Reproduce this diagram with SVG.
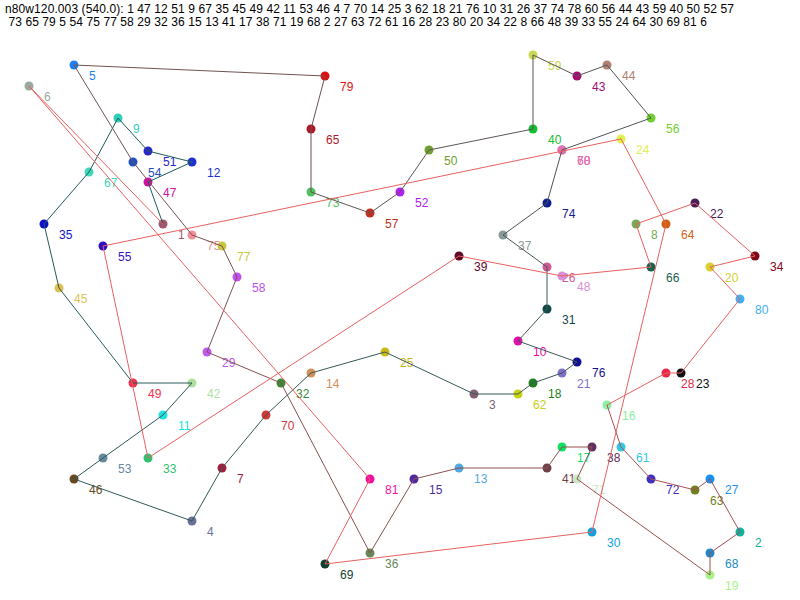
<svg xmlns="http://www.w3.org/2000/svg" width="800" height="600" viewBox="0 0 800 600">
<style>
.bg{fill:#ffffff}
.hdr{font-family:"Liberation Sans",Arial,sans-serif;font-size:12px;fill:#000000}
.nd circle{stroke:none}
.nd text{font-family:"Liberation Sans",Arial,sans-serif;font-size:12px}
#edges line{stroke-width:1;fill:none}
.r{stroke:#e86060}
</style>
<rect class="bg" x="0" y="0" width="800" height="600"/>
<text class="hdr" x="5" y="13" textLength="729" lengthAdjust="spacing">n80w120.003 (540.0): 1 47 12 51 9 67 35 45 49 42 11 53 46 4 7 70 14 25 3 62 18 21 76 10 31 26 37 74 78 60 56 44 43 59 40 50 52 57</text>
<text class="hdr" x="5" y="26" textLength="702" lengthAdjust="spacing" xml:space="preserve"> 73 65 79 5 54 75 77 58 29 32 36 15 13 41 17 38 71 19 68 2 27 63 72 61 16 28 23 80 20 34 22 8 66 48 39 33 55 24 64 30 69 81 6</text>

<g id="nodes">
<g id="node-1" class="nd"><circle cx="163" cy="224" r="4.5" fill="#a05870"/><text x="178" y="239" fill="#a05870">1</text></g>
<g id="node-2" class="nd"><circle cx="740" cy="532" r="4.5" fill="#10b0a0"/><text x="755" y="547" fill="#10b0a0">2</text></g>
<g id="node-3" class="nd"><circle cx="474" cy="394" r="4.5" fill="#806070"/><text x="489" y="409" fill="#806070">3</text></g>
<g id="node-4" class="nd"><circle cx="192" cy="521" r="4.5" fill="#6a7098"/><text x="207" y="536" fill="#6a7098">4</text></g>
<g id="node-5" class="nd"><circle cx="74" cy="65" r="4.5" fill="#1e80f0"/><text x="89" y="80" fill="#1e80f0">5</text></g>
<g id="node-6" class="nd"><circle cx="29" cy="86" r="4.5" fill="#98aaa0"/><text x="44" y="101" fill="#98aaa0">6</text></g>
<g id="node-7" class="nd"><circle cx="222" cy="468" r="4.5" fill="#a02040"/><text x="237" y="483" fill="#a02040">7</text></g>
<g id="node-8" class="nd"><circle cx="636" cy="224" r="4.5" fill="#78a858"/><text x="651" y="239" fill="#78a858">8</text></g>
<g id="node-9" class="nd"><circle cx="118" cy="118" r="4.5" fill="#30d0b8"/><text x="133" y="133" fill="#30d0b8">9</text></g>
<g id="node-10" class="nd"><circle cx="518" cy="341" r="4.5" fill="#e010a8"/><text x="533" y="356" fill="#e010a8">10</text></g>
<g id="node-11" class="nd"><circle cx="163" cy="415" r="4.5" fill="#20e0e0"/><text x="178" y="430" fill="#20e0e0">11</text></g>
<g id="node-12" class="nd"><circle cx="192" cy="162" r="4.5" fill="#2030d0"/><text x="207" y="177" fill="#2030d0">12</text></g>
<g id="node-13" class="nd"><circle cx="459" cy="468" r="4.5" fill="#50a8e0"/><text x="474" y="483" fill="#50a8e0">13</text></g>
<g id="node-14" class="nd"><circle cx="311" cy="373" r="4.5" fill="#d09058"/><text x="326" y="388" fill="#d09058">14</text></g>
<g id="node-15" class="nd"><circle cx="414" cy="479" r="4.5" fill="#5028a0"/><text x="429" y="494" fill="#5028a0">15</text></g>
<g id="node-16" class="nd"><circle cx="607" cy="405" r="4.5" fill="#88f0a0"/><text x="622" y="420" fill="#88f0a0">16</text></g>
<g id="node-17" class="nd"><circle cx="562" cy="447" r="4.5" fill="#10e060"/><text x="577" y="462" fill="#10e060">17</text></g>
<g id="node-18" class="nd"><circle cx="533" cy="383" r="4.5" fill="#208020"/><text x="548" y="398" fill="#208020">18</text></g>
<g id="node-19" class="nd"><circle cx="710" cy="575" r="4.5" fill="#a8f088"/><text x="725" y="590" fill="#a8f088">19</text></g>
<g id="node-20" class="nd"><circle cx="710" cy="267" r="4.5" fill="#d8d030"/><text x="725" y="282" fill="#d8d030">20</text></g>
<g id="node-21" class="nd"><circle cx="562" cy="373" r="4.5" fill="#8070c8"/><text x="577" y="388" fill="#8070c8">21</text></g>
<g id="node-22" class="nd"><circle cx="695" cy="203" r="4.5" fill="#482058"/><text x="710" y="218" fill="#482058">22</text></g>
<g id="node-23" class="nd"><circle cx="681" cy="373" r="4.5" fill="#101010"/><text x="696" y="388" fill="#101010">23</text></g>
<g id="node-24" class="nd"><circle cx="621" cy="139" r="4.5" fill="#e0f050"/><text x="636" y="154" fill="#e0f050">24</text></g>
<g id="node-25" class="nd"><circle cx="385" cy="352" r="4.5" fill="#c8b818"/><text x="400" y="367" fill="#c8b818">25</text></g>
<g id="node-26" class="nd"><circle cx="547" cy="267" r="4.5" fill="#d05890"/><text x="562" y="282" fill="#d05890">26</text></g>
<g id="node-27" class="nd"><circle cx="710" cy="479" r="4.5" fill="#1890f0"/><text x="725" y="494" fill="#1890f0">27</text></g>
<g id="node-28" class="nd"><circle cx="666" cy="373" r="4.5" fill="#e82848"/><text x="681" y="388" fill="#e82848">28</text></g>
<g id="node-29" class="nd"><circle cx="207" cy="352" r="4.5" fill="#c058f0"/><text x="222" y="367" fill="#c058f0">29</text></g>
<g id="node-30" class="nd"><circle cx="592" cy="532" r="4.5" fill="#10a0e0"/><text x="607" y="547" fill="#10a0e0">30</text></g>
<g id="node-31" class="nd"><circle cx="547" cy="309" r="4.5" fill="#104848"/><text x="562" y="324" fill="#104848">31</text></g>
<g id="node-32" class="nd"><circle cx="281" cy="383" r="4.5" fill="#3a8a3a"/><text x="296" y="398" fill="#3a8a3a">32</text></g>
<g id="node-33" class="nd"><circle cx="148" cy="458" r="4.5" fill="#30c070"/><text x="163" y="473" fill="#30c070">33</text></g>
<g id="node-34" class="nd"><circle cx="755" cy="256" r="4.5" fill="#800818"/><text x="770" y="271" fill="#800818">34</text></g>
<g id="node-35" class="nd"><circle cx="44" cy="224" r="4.5" fill="#1010c8"/><text x="59" y="239" fill="#1010c8">35</text></g>
<g id="node-36" class="nd"><circle cx="370" cy="553" r="4.5" fill="#688858"/><text x="385" y="568" fill="#688858">36</text></g>
<g id="node-37" class="nd"><circle cx="503" cy="235" r="4.5" fill="#8a9a98"/><text x="518" y="250" fill="#8a9a98">37</text></g>
<g id="node-38" class="nd"><circle cx="592" cy="447" r="4.5" fill="#603060"/><text x="607" y="462" fill="#603060">38</text></g>
<g id="node-39" class="nd"><circle cx="459" cy="256" r="4.5" fill="#600828"/><text x="474" y="271" fill="#600828">39</text></g>
<g id="node-40" class="nd"><circle cx="533" cy="129" r="4.5" fill="#10c030"/><text x="548" y="144" fill="#10c030">40</text></g>
<g id="node-41" class="nd"><circle cx="547" cy="468" r="4.5" fill="#704048"/><text x="562" y="483" fill="#704048">41</text></g>
<g id="node-42" class="nd"><circle cx="192" cy="383" r="4.5" fill="#b0e0a0"/><text x="207" y="398" fill="#b0e0a0">42</text></g>
<g id="node-43" class="nd"><circle cx="577" cy="76" r="4.5" fill="#a01070"/><text x="592" y="91" fill="#a01070">43</text></g>
<g id="node-44" class="nd"><circle cx="607" cy="65" r="4.5" fill="#b08070"/><text x="622" y="80" fill="#b08070">44</text></g>
<g id="node-45" class="nd"><circle cx="59" cy="288" r="4.5" fill="#e0c050"/><text x="74" y="303" fill="#e0c050">45</text></g>
<g id="node-46" class="nd"><circle cx="74" cy="479" r="4.5" fill="#684820"/><text x="89" y="494" fill="#684820">46</text></g>
<g id="node-47" class="nd"><circle cx="148" cy="182" r="4.5" fill="#d010a0"/><text x="163" y="197" fill="#d010a0">47</text></g>
<g id="node-48" class="nd"><circle cx="562" cy="276" r="4.5" fill="#d890d8"/><text x="577" y="291" fill="#d890d8">48</text></g>
<g id="node-49" class="nd"><circle cx="133" cy="383" r="4.5" fill="#f03050"/><text x="148" y="398" fill="#f03050">49</text></g>
<g id="node-50" class="nd"><circle cx="429" cy="150" r="4.5" fill="#70a030"/><text x="444" y="165" fill="#70a030">50</text></g>
<g id="node-51" class="nd"><circle cx="148" cy="151" r="4.5" fill="#2828c8"/><text x="163" y="166" fill="#2828c8">51</text></g>
<g id="node-52" class="nd"><circle cx="400" cy="192" r="4.5" fill="#b020f0"/><text x="415" y="207" fill="#b020f0">52</text></g>
<g id="node-53" class="nd"><circle cx="103" cy="458" r="4.5" fill="#6888a0"/><text x="118" y="473" fill="#6888a0">53</text></g>
<g id="node-54" class="nd"><circle cx="133" cy="162" r="4.5" fill="#2050c0"/><text x="148" y="177" fill="#2050c0">54</text></g>
<g id="node-55" class="nd"><circle cx="103" cy="246" r="4.5" fill="#3010c0"/><text x="118" y="261" fill="#3010c0">55</text></g>
<g id="node-56" class="nd"><circle cx="651" cy="118" r="4.5" fill="#70d030"/><text x="666" y="133" fill="#70d030">56</text></g>
<g id="node-57" class="nd"><circle cx="370" cy="213" r="4.5" fill="#c03020"/><text x="385" y="228" fill="#c03020">57</text></g>
<g id="node-58" class="nd"><circle cx="237" cy="277" r="4.5" fill="#c050f0"/><text x="252" y="292" fill="#c050f0">58</text></g>
<g id="node-59" class="nd"><circle cx="533" cy="55" r="4.5" fill="#c8d850"/><text x="548" y="70" fill="#c8d850">59</text></g>
<g id="node-60" class="nd"><circle cx="562" cy="150" r="4.5" fill="#d868a8"/><text x="577" y="165" fill="#d868a8">60</text></g>
<g id="node-61" class="nd"><circle cx="621" cy="447" r="4.5" fill="#30c8e0"/><text x="636" y="462" fill="#30c8e0">61</text></g>
<g id="node-62" class="nd"><circle cx="518" cy="394" r="4.5" fill="#c8d010"/><text x="533" y="409" fill="#c8d010">62</text></g>
<g id="node-63" class="nd"><circle cx="695" cy="490" r="4.5" fill="#708020"/><text x="710" y="505" fill="#708020">63</text></g>
<g id="node-64" class="nd"><circle cx="666" cy="224" r="4.5" fill="#d06010"/><text x="681" y="239" fill="#d06010">64</text></g>
<g id="node-65" class="nd"><circle cx="311" cy="129" r="4.5" fill="#b01828"/><text x="326" y="144" fill="#b01828">65</text></g>
<g id="node-66" class="nd"><circle cx="651" cy="267" r="4.5" fill="#186050"/><text x="666" y="282" fill="#186050">66</text></g>
<g id="node-67" class="nd"><circle cx="89" cy="172" r="4.5" fill="#40d8b8"/><text x="104" y="187" fill="#40d8b8">67</text></g>
<g id="node-68" class="nd"><circle cx="710" cy="553" r="4.5" fill="#2088c8"/><text x="725" y="568" fill="#2088c8">68</text></g>
<g id="node-69" class="nd"><circle cx="325" cy="564" r="4.5" fill="#104030"/><text x="340" y="579" fill="#104030">69</text></g>
<g id="node-70" class="nd"><circle cx="266" cy="415" r="4.5" fill="#d03838"/><text x="281" y="430" fill="#d03838">70</text></g>
<g id="node-71" class="nd"><circle cx="577" cy="479" r="4.5" fill="#c8e8c8"/><text x="592" y="494" fill="#c8e8c8">71</text></g>
<g id="node-72" class="nd"><circle cx="651" cy="479" r="4.5" fill="#4030c0"/><text x="666" y="494" fill="#4030c0">72</text></g>
<g id="node-73" class="nd"><circle cx="311" cy="192" r="4.5" fill="#50c060"/><text x="326" y="207" fill="#50c060">73</text></g>
<g id="node-74" class="nd"><circle cx="547" cy="203" r="4.5" fill="#102090"/><text x="562" y="218" fill="#102090">74</text></g>
<g id="node-75" class="nd"><circle cx="192" cy="235" r="4.5" fill="#f09098"/><text x="207" y="250" fill="#f09098">75</text></g>
<g id="node-76" class="nd"><circle cx="577" cy="362" r="4.5" fill="#101090"/><text x="592" y="377" fill="#101090">76</text></g>
<g id="node-77" class="nd"><circle cx="222" cy="246" r="4.5" fill="#c8c840"/><text x="237" y="261" fill="#c8c840">77</text></g>
<g id="node-78" class="nd"><circle cx="562" cy="150" r="4.5" fill="#e070b0"/><text x="577" y="165" fill="#e070b0">78</text></g>
<g id="node-79" class="nd"><circle cx="325" cy="76" r="4.5" fill="#e01010"/><text x="340" y="91" fill="#e01010">79</text></g>
<g id="node-80" class="nd"><circle cx="740" cy="299" r="4.5" fill="#40b0f0"/><text x="755" y="314" fill="#40b0f0">80</text></g>
<g id="node-81" class="nd"><circle cx="370" cy="479" r="4.5" fill="#f010a0"/><text x="385" y="494" fill="#f010a0">81</text></g>
</g>

<g id="edges">
<line x1="163" y1="224" x2="148" y2="182" stroke="#1a5c5c"/>
<line x1="148" y1="182" x2="192" y2="162" stroke="#1c5c5c"/>
<line x1="192" y1="162" x2="148" y2="151" stroke="#1e5b5b"/>
<line x1="148" y1="151" x2="118" y2="118" stroke="#205b5b"/>
<line x1="118" y1="118" x2="89" y2="172" stroke="#215b5b"/>
<line x1="89" y1="172" x2="44" y2="224" stroke="#235b5b"/>
<line x1="44" y1="224" x2="59" y2="288" stroke="#255a5a"/>
<line x1="59" y1="288" x2="133" y2="383" stroke="#275a5a"/>
<line x1="133" y1="383" x2="192" y2="383" stroke="#295a5a"/>
<line x1="192" y1="383" x2="163" y2="415" stroke="#2b5a5a"/>
<line x1="163" y1="415" x2="103" y2="458" stroke="#2d5959"/>
<line x1="103" y1="458" x2="74" y2="479" stroke="#2f5959"/>
<line x1="74" y1="479" x2="192" y2="521" stroke="#305959"/>
<line x1="192" y1="521" x2="222" y2="468" stroke="#325959"/>
<line x1="222" y1="468" x2="266" y2="415" stroke="#345858"/>
<line x1="266" y1="415" x2="311" y2="373" stroke="#365858"/>
<line x1="311" y1="373" x2="385" y2="352" stroke="#385858"/>
<line x1="385" y1="352" x2="474" y2="394" stroke="#3a5858"/>
<line x1="474" y1="394" x2="518" y2="394" stroke="#3c5757"/>
<line x1="518" y1="394" x2="533" y2="383" stroke="#3e5757"/>
<line x1="533" y1="383" x2="562" y2="373" stroke="#3f5757"/>
<line x1="562" y1="373" x2="577" y2="362" stroke="#415757"/>
<line x1="577" y1="362" x2="518" y2="341" stroke="#435656"/>
<line x1="518" y1="341" x2="547" y2="309" stroke="#455656"/>
<line x1="547" y1="309" x2="547" y2="267" stroke="#475656"/>
<line x1="547" y1="267" x2="503" y2="235" stroke="#495656"/>
<line x1="503" y1="235" x2="547" y2="203" stroke="#4b5555"/>
<line x1="547" y1="203" x2="562" y2="150" stroke="#4d5555"/>
<line x1="562" y1="150" x2="562" y2="150" stroke="#4e5555"/>
<line x1="562" y1="150" x2="651" y2="118" stroke="#505555"/>
<line x1="651" y1="118" x2="607" y2="65" stroke="#525454"/>
<line x1="607" y1="65" x2="577" y2="76" stroke="#545454"/>
<line x1="577" y1="76" x2="533" y2="55" stroke="#575454"/>
<line x1="533" y1="55" x2="533" y2="129" stroke="#5a5454"/>
<line x1="533" y1="129" x2="429" y2="150" stroke="#5d5454"/>
<line x1="429" y1="150" x2="400" y2="192" stroke="#605353"/>
<line x1="400" y1="192" x2="370" y2="213" stroke="#635353"/>
<line x1="370" y1="213" x2="311" y2="192" stroke="#665353"/>
<line x1="311" y1="192" x2="311" y2="129" stroke="#695353"/>
<line x1="311" y1="129" x2="325" y2="76" stroke="#6d5353"/>
<line x1="325" y1="76" x2="74" y2="65" stroke="#705353"/>
<line x1="74" y1="65" x2="133" y2="162" stroke="#735353"/>
<line x1="133" y1="162" x2="192" y2="235" stroke="#765252"/>
<line x1="192" y1="235" x2="222" y2="246" stroke="#795252"/>
<line x1="222" y1="246" x2="237" y2="277" stroke="#7c5252"/>
<line x1="237" y1="277" x2="207" y2="352" stroke="#7f5252"/>
<line x1="207" y1="352" x2="281" y2="383" stroke="#825252"/>
<line x1="281" y1="383" x2="370" y2="553" stroke="#855252"/>
<line x1="370" y1="553" x2="414" y2="479" stroke="#885151"/>
<line x1="414" y1="479" x2="459" y2="468" stroke="#8b5151"/>
<line x1="459" y1="468" x2="547" y2="468" stroke="#8e5151"/>
<line x1="547" y1="468" x2="562" y2="447" stroke="#915151"/>
<line x1="562" y1="447" x2="592" y2="447" stroke="#945151"/>
<line x1="592" y1="447" x2="577" y2="479" stroke="#985151"/>
<line x1="577" y1="479" x2="710" y2="575" stroke="#9b5151"/>
<line x1="710" y1="575" x2="710" y2="553" stroke="#9e5050"/>
<line x1="710" y1="553" x2="740" y2="532" stroke="#a15050"/>
<line x1="740" y1="532" x2="710" y2="479" stroke="#a45050"/>
<line x1="710" y1="479" x2="695" y2="490" stroke="#a75050"/>
<line x1="695" y1="490" x2="651" y2="479" stroke="#aa5050"/>
<line x1="651" y1="479" x2="621" y2="447" stroke="#ad5050"/>
<line x1="621" y1="447" x2="607" y2="405" stroke="#b05050"/>
<line class="r" x1="607" y1="405" x2="666" y2="373"/>
<line class="r" x1="666" y1="373" x2="681" y2="373"/>
<line class="r" x1="681" y1="373" x2="740" y2="299"/>
<line class="r" x1="740" y1="299" x2="710" y2="267"/>
<line class="r" x1="710" y1="267" x2="755" y2="256"/>
<line class="r" x1="755" y1="256" x2="695" y2="203"/>
<line class="r" x1="695" y1="203" x2="636" y2="224"/>
<line class="r" x1="636" y1="224" x2="651" y2="267"/>
<line class="r" x1="651" y1="267" x2="562" y2="276"/>
<line class="r" x1="562" y1="276" x2="459" y2="256"/>
<line class="r" x1="459" y1="256" x2="148" y2="458"/>
<line class="r" x1="148" y1="458" x2="103" y2="246"/>
<line class="r" x1="103" y1="246" x2="621" y2="139"/>
<line class="r" x1="621" y1="139" x2="666" y2="224"/>
<line class="r" x1="666" y1="224" x2="592" y2="532"/>
<line class="r" x1="592" y1="532" x2="325" y2="564"/>
<line class="r" x1="325" y1="564" x2="370" y2="479"/>
<line class="r" x1="370" y1="479" x2="29" y2="86"/>
<line class="r" x1="29" y1="86" x2="163" y2="224"/>
</g>
</svg>
